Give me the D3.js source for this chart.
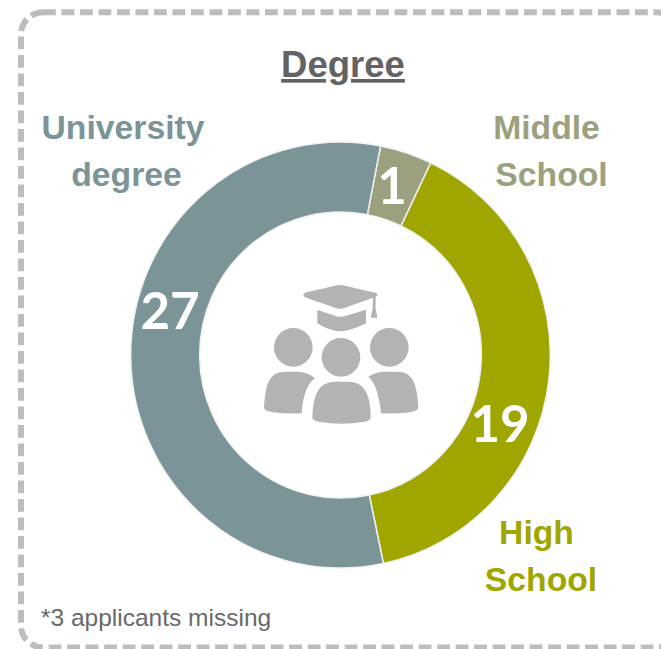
<!DOCTYPE html>
<html><head><meta charset="utf-8">
<script src="https://cdnjs.cloudflare.com/ajax/libs/d3/7.8.5/d3.min.js"></script>
<style>html,body{margin:0;padding:0;background:#fff;overflow:hidden}svg{display:block}</style>
</head><body><svg id="c" width="661" height="649"></svg>
<script>
const categories = ["Middle School", "High School", "University degree"];
const values = [1, 19, 27];
// Angular share as drawn in the picture: the small slice is shown wider than its count.
const drawnShares = [1.93, 19, 27];
const colors = ["#9DA07E", "#A0A600", "#7A9498"];
const title = "Degree";
const footnote = "*3 applicants missing";

const svg = d3.select("#c");
const sans = "'Liberation Sans', Arial, sans-serif";

svg.append("rect").attr("x",21).attr("y",12.3).attr("width",657.55).attr("height",635.2)
  .attr("rx",22).attr("fill","none").attr("stroke","#BDBDBD").attr("stroke-width",6)
  .attr("stroke-dasharray","12.8 5.7");

const cx=340.5, cy=355;
const pie=d3.pie().sort(null).value((d,i)=>drawnShares[i])
  .startAngle(11*Math.PI/180).endAngle((360+11)*Math.PI/180);
const arc=d3.arc().innerRadius(143).outerRadius(213);
const g=svg.append("g").attr("transform",`translate(${cx},${cy}) scale(0.985,1)`);
const arcs=pie(values);
g.selectAll("path").data(arcs).join("path").attr("d",arc)
  .attr("fill",(d,i)=>colors[i]).attr("stroke","#F0F2F2").attr("stroke-width",1.5);

const numPos=[[392,184],[500,422],[170,309]];
svg.selectAll("text.n").data(values).join("text").attr("class","n")
  .attr("x",(d,i)=>numPos[i][0]).attr("y",(d,i)=>numPos[i][1])
  .attr("text-anchor","middle").attr("dominant-baseline","central")
  .attr("font-family","Lato, sans-serif").attr("font-weight",700).attr("font-size",51)
  .attr("fill","#fff").text(d=>d);

const labelLines=[["Middle","School"],["High","School"],["University","degree"]];
const labelX=[[546.5,551.5],[536.5,541],[123,126.5]];
const labelY=[139,544,139];
labelLines.forEach((ls,i)=>ls.forEach((t,j)=>{
  svg.append("text").attr("x",labelX[i][j]).attr("y",labelY[i]+j*47)
    .attr("text-anchor","middle").attr("font-family",sans).attr("font-weight",700)
    .attr("font-size",33.7).attr("fill",colors[i]).text(t);
}));

svg.append("text").attr("x",343).attr("y",77).attr("text-anchor","middle")
  .attr("font-family",sans).attr("font-weight",700).attr("font-size",36.5)
  .attr("fill","#636363").attr("text-decoration","underline").text(title);
svg.append("text").attr("x",41).attr("y",626).attr("font-family",sans)
  .attr("font-size",24.5).attr("fill","#696969").text(footnote);

// Icon, drawn in 3x crop coordinates
const ic=svg.append("g").attr("transform","translate(250,270) scale(0.3333)").attr("fill","#B3B3B3");
[[130,232],[273,262],[418,232]].forEach(c=>ic.append("circle").attr("cx",c[0]).attr("cy",c[1]).attr("r",58));
[
 "M160,75 Q160,70 170,67 L255,47 Q270,43 285,47 L378,69 Q388,75 378,80 L285,113 Q270,119 255,113 L170,84 Q160,80 160,75Z",
 "M202,120 L258,138 Q272,143 286,138 L348,119 L348,160 Q300,184 272,184 Q240,184 202,160Z",
 "M369,82 L377,80 L377,115 L382,143 L362,143 L368,115Z",
 "M187,443 Q188,395 200,370 Q215,335 255,335 L295,335 Q335,335 350,370 Q362,395 362,443 Q362,451 340,456 Q275,467 210,456 Q187,451 187,443Z",
 "M42,412 Q45,365 52,345 Q65,305 105,305 L145,305 Q175,307 195,325 Q160,350 155,430 Q80,432 50,422 Q42,420 42,412Z",
 "M505,412 Q502,365 495,345 Q482,305 442,305 L400,305 Q375,307 355,320 Q385,345 393,430 Q470,432 497,422 Q505,420 505,412Z"
].forEach(d=>ic.append("path").attr("d",d));
</script></body></html>
